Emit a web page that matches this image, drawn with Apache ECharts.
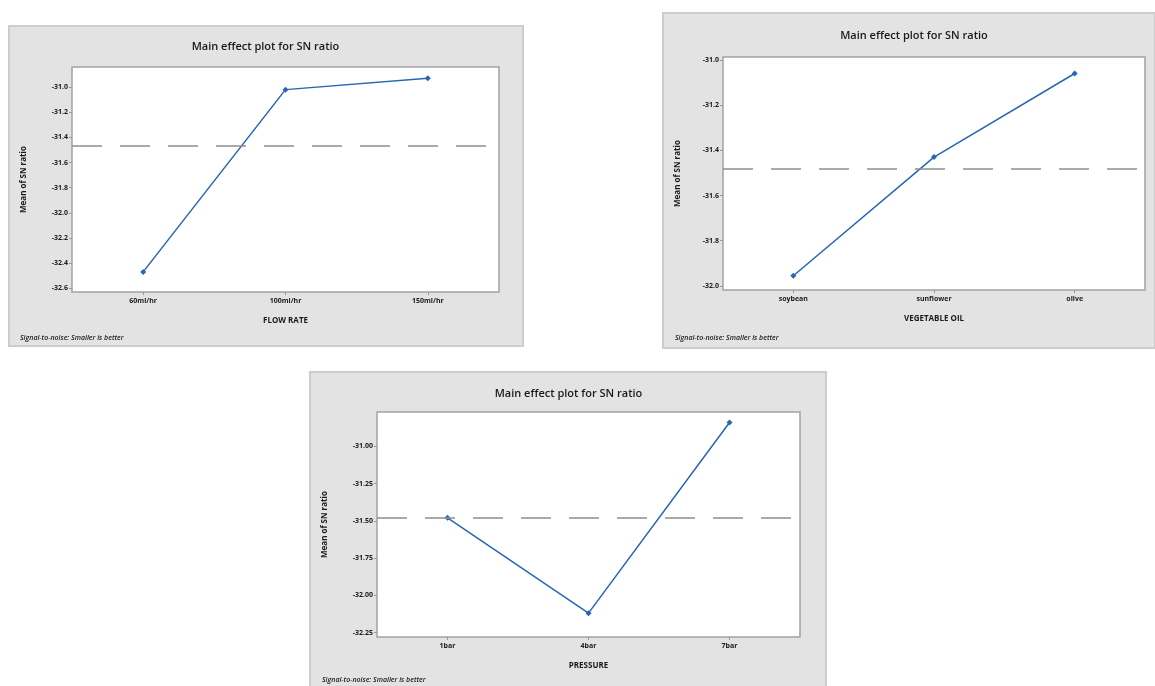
<!DOCTYPE html>
<html>
<head>
<meta charset="utf-8">
<script src="https://cdn.jsdelivr.net/npm/echarts@6/dist/echarts.min.js"></script>
<style>
html,body{margin:0;padding:0;background:#fff;}
#c{width:1155px;height:686px;}
</style>
</head>
<body>
<div id="c"></div>
<script>
// ---- data ----
var flowCats = ['60ml/hr', '100ml/hr', '150ml/hr'];
var flowVals = [-32.47, -31.02, -30.93];
var flowTicks = [-31.0, -31.2, -31.4, -31.6, -31.8, -32.0, -32.2, -32.4, -32.6];

var oilCats = ['soybean', 'sunflower', 'olive'];
var oilVals = [-31.955, -31.43, -31.06];
var oilTicks = [-31.0, -31.2, -31.4, -31.6, -31.8, -32.0];

var presCats = ['1bar', '4bar', '7bar'];
var presVals = [-31.48, -32.12, -30.84];
var presTicks = [-31.00, -31.25, -31.50, -31.75, -32.00, -32.25];

var titleText = 'Main effect plot for SN ratio';
var yName = 'Mean of SN ratio';
var footText = 'Signal-to-noise: Smaller is better';

function mean(a){var s=0;for(var i=0;i<a.length;i++)s+=a[i];return s/a.length;}

var FONT = 'Open Sans';
var panels = [
  {rect:[9,26,514,320], grid:{left:72,top:67,width:427,height:225}, cats:flowCats, vals:flowVals, ticks:flowTicks, dec:1, min:-32.63, max:-30.84, xName:'FLOW RATE', yGap:44, titleY:47, footX:20, footY:338},
  {rect:[663,13,492,335], grid:{left:723,top:57,width:422,height:233}, cats:oilCats, vals:oilVals, ticks:oilTicks, dec:1, min:-32.018, max:-30.987, xName:'VEGETABLE OIL', yGap:41, titleY:36, footX:675, footY:338},
  {rect:[310,372,516,320], grid:{left:377,top:412,width:423,height:225}, cats:presCats, vals:presVals, ticks:presTicks, dec:2, min:-32.28, max:-30.77, xName:'PRESSURE', yGap:48, titleY:394, footX:322, footY:680}
];

var grids=[], xAxes=[], yAxes=[], series=[], graphics=[];
panels.forEach(function(p, i){
  graphics.push({type:'rect', shape:{x:p.rect[0], y:p.rect[1], width:p.rect[2], height:p.rect[3]},
    style:{fill:'#e3e3e3', stroke:'#cdcdcd', lineWidth:2}, z:-10});
  graphics.push({type:'text', x:p.grid.left + p.grid.width/2 - 20, y:p.titleY,
    style:{text:titleText, fill:'#1a1a1a', font:'600 11px "' + FONT + '"', textAlign:'center', textVerticalAlign:'middle'}, z:10});
  graphics.push({type:'text', x:p.footX, y:p.footY,
    style:{text:footText, fill:'#222', font:'italic 600 7px "' + FONT + '"', textAlign:'left', textVerticalAlign:'middle'}, z:10});
  grids.push({left:p.grid.left, top:p.grid.top, width:p.grid.width, height:p.grid.height,
    show:true, backgroundColor:'#ffffff', borderColor:'#a3a3a3', borderWidth:1.5, containLabel:false});
  xAxes.push({type:'category', gridIndex:i, data:p.cats, boundaryGap:true,
    axisLine:{show:false}, axisTick:{show:true, alignWithLabel:true, length:3, lineStyle:{color:'#999'}},
    axisLabel:{color:'#1a1a1a', fontSize:7, fontFamily:FONT, fontWeight:'bold', margin:5},
    name:p.xName, nameLocation:'middle', nameGap:25,
    nameTextStyle:{color:'#1a1a1a', fontSize:8, fontFamily:FONT, fontWeight:'bold'},
    splitLine:{show:false}});
  yAxes.push({type:'value', gridIndex:i, min:p.min, max:p.max,
    axisLine:{show:false}, splitLine:{show:false},
    axisTick:{show:true, length:3, lineStyle:{color:'#999'}, customValues:p.ticks},
    axisLabel:{color:'#1a1a1a', fontSize:7, fontFamily:FONT, fontWeight:'bold', margin:4, customValues:p.ticks,
      formatter:(function(d){return function(v){return v.toFixed(d);};})(p.dec)},
    name:yName, nameLocation:'middle', nameRotate:90, nameGap:p.yGap,
    nameTextStyle:{color:'#1a1a1a', fontSize:8, fontFamily:FONT, fontWeight:'bold'}});
  series.push({type:'line', xAxisIndex:i, yAxisIndex:i, data:p.vals,
    symbol:'diamond', symbolSize:6, showSymbol:true,
    lineStyle:{color:'#2666b3', width:1.5}, itemStyle:{color:'#2666b3'},
    animation:false,
    markLine:{silent:true, symbol:'none', label:{show:false},
      lineStyle:{color:'#8f8f8f', type:[30,18], width:1.5},
      data:[{yAxis:mean(p.vals)}]}});
});

var chart = echarts.init(document.getElementById('c'), null, {renderer:'canvas'});
chart.setOption({
  backgroundColor:'#ffffff',
  animation:false,
  grid:grids, xAxis:xAxes, yAxis:yAxes, series:series, graphic:graphics
});
</script>
</body>
</html>
